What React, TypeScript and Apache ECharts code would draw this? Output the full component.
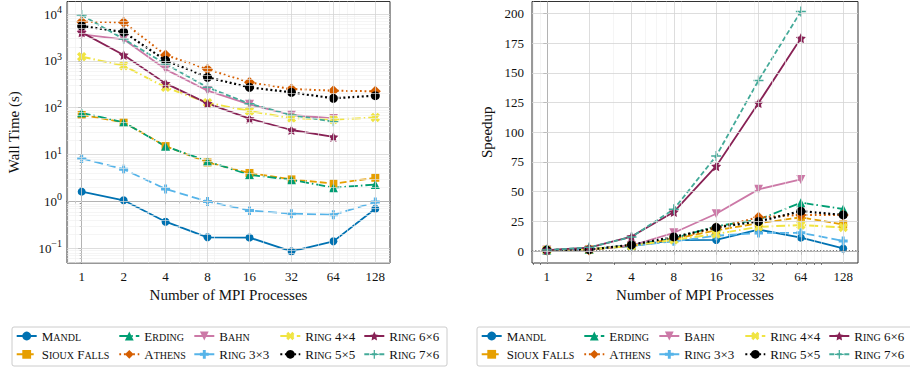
import React, { useEffect, useRef } from 'react';
import * as echarts from 'echarts';

// ---------- data ----------
const processes = [1, 2, 4, 8, 16, 32, 64, 128];
const seriesNames = ['Mandl', 'Sioux Falls', 'Erding', 'Athens', 'Bahn', 'Ring 3×3', 'Ring 4×4', 'Ring 5×5', 'Ring 6×6', 'Ring 7×6'];

// wall time (s)
const wallMandl = [1.62, 1.06, 0.37, 0.172, 0.17, 0.086, 0.141, 0.7];
const wallSiouxFalls = [70, 49, 15.2, 6.8, 4.05, 2.96, 2.4, 3.2];
const wallErding = [78, 49, 15, 7.2, 3.7, 2.9, 1.97, 2.3];
const wallAthens = [6860, 6640, 1333, 660, 348, 251, 231, 224];
const wallBahn = [3680, 2880, 660, 231, 118, 70, 59];
const wallRing3x3 = [8.3, 4.85, 1.85, 1.0, 0.64, 0.55, 0.52, 0.97];
const wallRing4x4 = [1230, 790, 272, 128, 85, 60, 56, 62];
const wallRing5x5 = [5550, 4130, 1025, 446, 272, 213, 159, 181];
const wallRing6x6 = [4060, 1333, 331, 124, 58.5, 33.5, 23.8];
const wallRing7x6 = [9520, 2930, 857, 272, 122, 70, 50.5];

// speedup
const spMandl = [1, 1.5, 4.4, 9.4, 9.5, 18.2, 11.4, 2.3];
const spSiouxFalls = [1, 1.4, 4.6, 10.3, 17.5, 23.5, 28.5, 22.5];
const spErding = [1, 1.6, 5.2, 10.8, 21, 26.5, 40.8, 35.5];
const spAthens = [1, 1.03, 5.1, 10.4, 19.7, 28.5, 30.5, 30.5];
const spBahn = [1, 1.3, 4.8, 15.5, 31.5, 52, 60.3];
const spRing3x3 = [1, 1.7, 4.5, 8.3, 13, 15.3, 15.5, 8.6];
const spRing4x4 = [1, 1.56, 4.5, 9.6, 14.5, 20.5, 22, 20];
const spRing5x5 = [1, 1.3, 5.4, 12, 20, 25, 33.7, 30.5];
const spRing6x6 = [1, 3, 12.3, 33, 71.5, 124.5, 179];
const spRing7x6 = [1, 3.2, 12, 35.3, 80, 143.5, 201.5];

const wallTimes = [wallMandl, wallSiouxFalls, wallErding, wallAthens, wallBahn, wallRing3x3, wallRing4x4, wallRing5x5, wallRing6x6, wallRing7x6];
const speedups = [spMandl, spSiouxFalls, spErding, spAthens, spBahn, spRing3x3, spRing4x4, spRing5x5, spRing6x6, spRing7x6];

// tick positions
const xTickProcs = [1, 2, 4, 8, 16, 32, 64, 128];
const xMinorProcs = [0.8, 0.9, 3, 5, 6, 7, 9, 20, 30, 40, 50, 60, 70, 80, 90];
const yLogMajorExp = [-1, 0, 1, 2, 3, 4];
const ySpeedTicks = [0, 25, 50, 75, 100, 125, 150, 175, 200];

// ---------- styles ----------
const FONT = 'Liberation Serif';
const colors = ['#0072B2', '#E69F00', '#009E73', '#D55E00', '#CC79A7', '#56B4E9', '#F0E442', '#000000', '#882255', '#44AA99'];
const STAR = 'path://M0,-10 L2.94,-4.05 L9.51,-3.09 L4.76,1.55 L5.88,8.09 L0,5 L-5.88,8.09 L-4.76,1.55 L-9.51,-3.09 L-2.94,-4.05 Z';
const THICK_PLUS = 'path://M-1,-3 L1,-3 L1,-1 L3,-1 L3,1 L1,1 L1,3 L-1,3 L-1,1 L-3,1 L-3,-1 L-1,-1 Z';
const THIN_PLUS = 'path://M-0.7,-5 L0.7,-5 L0.7,-0.7 L5,-0.7 L5,0.7 L0.7,0.7 L0.7,5 L-0.7,5 L-0.7,0.7 L-5,0.7 L-5,-0.7 L-0.7,-0.7 Z';
const styles: any[] = [
  { symbol: 'circle', size: 8, rotate: 0, dash: 'solid', width: 1.8 },
  { symbol: 'rect', size: 8, rotate: 0, dash: [7, 3], width: 1.8 },
  { symbol: 'triangle', size: 9, rotate: 0, dash: [9, 3, 1.5, 3], width: 1.8 },
  { symbol: 'diamond', size: 11, rotate: 0, dash: [1.8, 2.8], width: 2 },
  { symbol: 'triangle', size: 9, rotate: 180, dash: 'solid', width: 1.8 },
  { symbol: THICK_PLUS, size: 9, rotate: 0, dash: [9, 4], width: 1.8 },
  { symbol: THICK_PLUS, size: 10, rotate: 45, dash: [9, 3, 1.5, 3], width: 2 },
  { symbol: 'circle', size: 9, rotate: 0, dash: [2, 2.6], width: 2.2 },
  { symbol: STAR, size: 10, rotate: 0, dash: 'solid', width: 1.8 },
  { symbol: THIN_PLUS, size: 10, rotate: 0, dash: [5, 2.5], width: 1.8 },
];

const log2 = (v: number) => Math.log(v) / Math.LN2;
const X_MIN = -0.35, X_MAX = 7.35;
const YL_MIN = -1.313, YL_MAX = 4.267;
const YS_MIN = -9.9, YS_MAX = 209.9;

const yLogMinor: number[] = [];
for (let k = -2; k <= 4; k++) for (let m = 2; m <= 9; m++) {
  const e = Math.log10(m * Math.pow(10, k));
  if (e > YL_MIN && e < YL_MAX) yLogMinor.push(e);
}

const MAJ = { color: '#d4d4d4', width: 0.8, type: 'solid' };
const MIN = { color: '#eeeeee', width: 0.6, type: 'solid' };

function smallCaps(name: string) {
  return name.split(' ').map(w => /^[A-Za-z]+$/.test(w)
    ? `{c|${w[0]}}{s|${w.slice(1).toUpperCase()}}`
    : `{c|${w}}`).join('{c| }');
}

function supLabel(v: number) {
  const e = Math.round(v);
  return `{b|10}{p|${e < 0 ? '\u2212' + (-e) : e}}`;
}

function buildOption() {
  const xMajor = xTickProcs.map(log2);
  const xMinor = xMinorProcs.map(log2);

  const axisLabelBase = { color: '#111', fontFamily: FONT, fontSize: 13 };
  const xAxisMain = (gridIndex: number) => ({
    type: 'value', gridIndex, min: X_MIN, max: X_MAX, position: 'bottom',
    name: 'Number of MPI Processes', nameLocation: 'middle', nameGap: 24,
    nameTextStyle: { fontFamily: FONT, fontSize: 15, color: '#111' },
    axisLine: { show: true, lineStyle: { color: '#333', width: 1 } },
    axisTick: { show: true, length: 3.5, customValues: xMajor, lineStyle: { color: '#333', width: 0.8 } },
    axisLabel: { ...axisLabelBase, margin: 7, customValues: xMajor, formatter: (v: number) => String(Math.round(Math.pow(2, v))) },
    splitLine: { show: false },
  });
  const xAxisMinor = (gridIndex: number) => ({
    type: 'value', gridIndex, min: X_MIN, max: X_MAX, position: 'bottom',
    axisLine: { show: false },
    axisTick: { show: true, length: 2, customValues: xMinor, lineStyle: { color: '#333', width: 0.6 } },
    axisLabel: { show: false }, splitLine: { show: false },
  });

  const gridLinesLeft = [
    ...xMinor.map(v => ({ xAxis: v, lineStyle: MIN })),
    ...yLogMinor.map(v => ({ yAxis: v, lineStyle: MIN })),
    ...xMajor.map(v => ({ xAxis: v, lineStyle: MAJ })),
    ...yLogMajorExp.map(v => ({ yAxis: v, lineStyle: MAJ })),
  ];
  const gridLinesRight = [
    ...xMinor.map(v => ({ xAxis: v, lineStyle: MIN })),
    ...xMajor.map(v => ({ xAxis: v, lineStyle: MAJ })),
    ...ySpeedTicks.map(v => ({ yAxis: v, lineStyle: MAJ })),
    { yAxis: 1, lineStyle: { color: '#777', width: 1, type: [1.2, 2] } },
  ];

  const markLineOf = (data: any[]) => ({
    silent: true, symbol: ['none', 'none'], label: { show: false }, animation: false,
    emphasis: { disabled: true }, data,
  });

  const series: any[] = [
    { type: 'line', name: '_gridL', xAxisIndex: 0, yAxisIndex: 0, data: [], z: 1, markLine: markLineOf(gridLinesLeft) },
    { type: 'line', name: '_gridR', xAxisIndex: 2, yAxisIndex: 2, data: [], z: 1, markLine: markLineOf(gridLinesRight) },
  ];

  seriesNames.forEach((name, i) => {
    const st = styles[i];
    const common = {
      type: 'line', name, symbol: st.symbol, symbolSize: st.size, symbolRotate: st.rotate,
      showAllSymbol: true, z: 2,
      itemStyle: { color: colors[i], borderWidth: 0 },
      lineStyle: { color: colors[i], width: st.width, type: st.dash },
      emphasis: { disabled: true },
    };
    series.push({
      ...common, xAxisIndex: 0, yAxisIndex: 0,
      data: wallTimes[i].map((t, j) => [log2(processes[j]), Math.log10(t)]),
    });
    series.push({
      ...common, xAxisIndex: 2, yAxisIndex: 2,
      data: speedups[i].map((s, j) => [log2(processes[j]), s]),
    });
  });

  const legendColIdx = [[0, 1], [2, 3], [4, 5], [6, 7], [8, 9]];
  const leftCols = [15.7, 118.3, 193.3, 279.3, 363.3];
  const allCols = [...leftCols, ...leftCols.map(x => x + 465)];
  const legend = allCols.map((x, i) => ({
    orient: 'vertical', left: x, top: 329.5, padding: 0, itemGap: 5.3,
    itemWidth: 20, itemHeight: 11, selectedMode: false,
    data: legendColIdx[i % 5].map(k => seriesNames[k]),
    formatter: smallCaps,
    textStyle: {
      fontFamily: FONT, color: '#111',
      rich: {
        c: { fontFamily: FONT, fontSize: 13, lineHeight: 13, verticalAlign: 'bottom', color: '#111' },
        s: { fontFamily: FONT, fontSize: 10, lineHeight: 10, verticalAlign: 'bottom', color: '#111' },
      },
    },
  }));

  return {
    animation: false,
    backgroundColor: '#ffffff',
    textStyle: { fontFamily: FONT },
    grid: [
      { left: 67, right: 520, top: 1.5, bottom: 107, show: true, borderColor: '#333', borderWidth: 1, backgroundColor: 'transparent' },
      { left: 532, right: 52, top: 1.5, bottom: 107, show: true, borderColor: '#333', borderWidth: 1, backgroundColor: 'transparent' },
    ],
    xAxis: [xAxisMain(0), xAxisMinor(0), xAxisMain(1), xAxisMinor(1)],
    yAxis: [
      {
        type: 'value', gridIndex: 0, min: YL_MIN, max: YL_MAX, position: 'left',
        name: 'Wall Time (s)', nameLocation: 'middle', nameGap: 46,
        nameTextStyle: { fontFamily: FONT, fontSize: 15, color: '#111' },
        axisLine: { show: true, lineStyle: { color: '#333', width: 1 } },
        axisTick: { show: true, length: 3.5, customValues: yLogMajorExp, lineStyle: { color: '#333', width: 0.8 } },
        axisLabel: {
          ...axisLabelBase, margin: 5, customValues: yLogMajorExp, formatter: supLabel,
          rich: {
            b: { fontFamily: FONT, fontSize: 13, lineHeight: 19, color: '#111' },
            p: { fontFamily: FONT, fontSize: 10, lineHeight: 10, verticalAlign: 'top', color: '#111' },
          },
        },
        splitLine: { show: false },
      },
      {
        type: 'value', gridIndex: 0, min: YL_MIN, max: YL_MAX, position: 'left',
        axisLine: { show: false },
        axisTick: { show: true, length: 2, customValues: yLogMinor, lineStyle: { color: '#333', width: 0.6 } },
        axisLabel: { show: false }, splitLine: { show: false },
      },
      {
        type: 'value', gridIndex: 1, min: YS_MIN, max: YS_MAX, position: 'left',
        name: 'Speedup', nameLocation: 'middle', nameGap: 38,
        nameTextStyle: { fontFamily: FONT, fontSize: 15, color: '#111' },
        axisLine: { show: true, lineStyle: { color: '#333', width: 1 } },
        axisTick: { show: true, length: 3.5, customValues: ySpeedTicks, lineStyle: { color: '#333', width: 0.8 } },
        axisLabel: { ...axisLabelBase, margin: 8, customValues: ySpeedTicks },
        splitLine: { show: false },
      },
    ],
    legend,
    graphic: [
      { type: 'rect', z: 0, shape: { x: 12, y: 327, width: 435, height: 39, r: 2 }, style: { fill: '#fff', stroke: '#cccccc', lineWidth: 1 } },
      { type: 'rect', z: 0, shape: { x: 477, y: 327, width: 440, height: 39, r: 2 }, style: { fill: '#fff', stroke: '#cccccc', lineWidth: 1 } },
    ],
    series,
  };
}

export default function App() {
  const ref = useRef<HTMLDivElement>(null);
  useEffect(() => {
    document.body.style.margin = '0';
    if (!ref.current) return;
    const chart = echarts.init(ref.current, null, { renderer: 'svg' });
    chart.setOption(buildOption() as any);
    return () => chart.dispose();
  }, []);
  return <div ref={ref} style={{ width: 910, height: 370 }} />;
}
